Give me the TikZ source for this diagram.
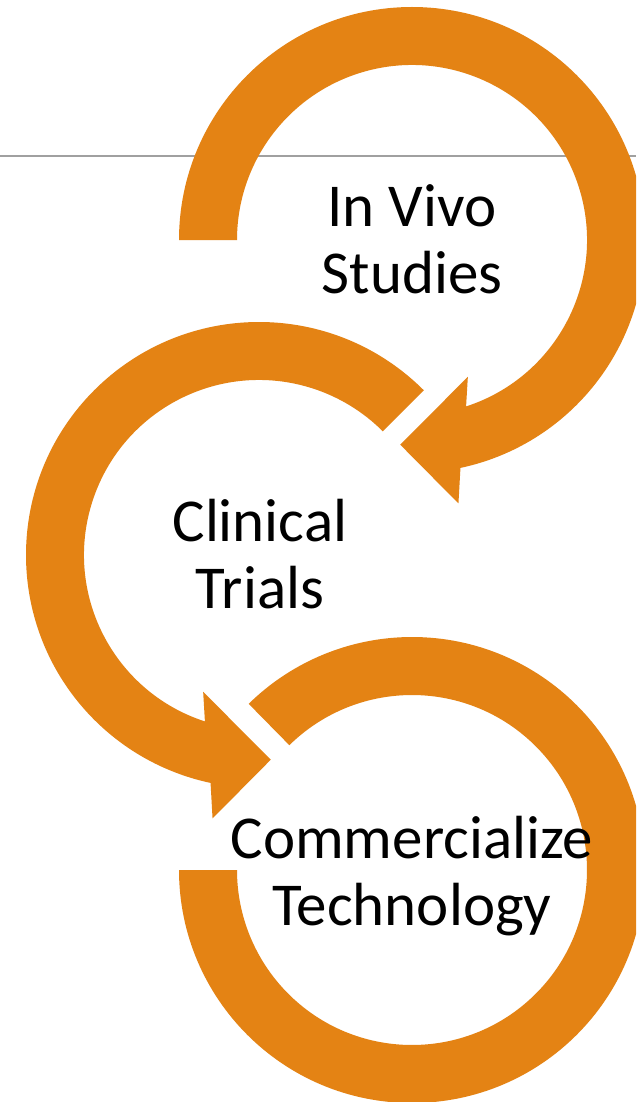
\documentclass[tikz,border=0pt]{standalone}
\usepackage{fontspec}
\setmainfont{Carlito}
\definecolor{ringorange}{RGB}{228,131,20}
\definecolor{rulegray}{RGB}{160,160,160}
\tikzset{
  ring/.style={fill=ringorange, draw=none},
  lbl/.style={font=\fontsize{45.7}{50}\selectfont, inner sep=0pt, anchor=base, text=black},
  hrule/.style={draw=rulegray, line width=1.1pt}
}
\begin{document}
\begin{tikzpicture}[x=0.75pt,y=0.75pt]
\useasboundingbox (0,0) rectangle (636,-1102);
\clip (0,0) rectangle (636,-1102);
\fill[white] (0,0) rectangle (636,-1102);
% horizontal rule
\coordinate (ruleL) at (0,-156);
\coordinate (ruleR) at (636,-156);
\draw[hrule] (ruleL) -- (ruleR);
% arrow 1 (In Vivo Studies), clockwise
\begin{scope}[shift={(412,-240)}]
  \fill[ring] (180:233) arc[start angle=180, end angle=-78, radius=233]
    -- (-80:267.5) -- (-93.3:205) -- (-67.8:147.8) -- (-72:175)
    arc[start angle=-72, end angle=180, radius=175] -- cycle;
\end{scope}
% arrow 2 (Clinical Trials), counterclockwise
\begin{scope}[shift={(259,-555)}]
  \fill[ring] (45:233) arc[start angle=45, end angle=258, radius=233]
    -- (260:267.5) -- (273.3:205) -- (247.8:147.8) -- (252:175)
    arc[start angle=252, end angle=45, radius=175] -- cycle;
\end{scope}
% arrow 3 (Commercialize Technology), no head
\begin{scope}[shift={(412,-870)}]
  \fill[ring] (180:233) arc[start angle=180, end angle=494.5, radius=233]
    -- (494.5:175) arc[start angle=494.5, end angle=180, radius=175] -- cycle;
\end{scope}
% labels
\node[lbl] (t1a) at (412,-226) {In Vivo};
\node[lbl] (t1b) at (412,-293.3) {Studies};
\node[lbl] (t2a) at (260,-541.7) {Clinical};
\node[lbl] (t2b) at (260,-608.3) {Trials};
\node[lbl] (t3a) at (412,-858.3) {Commercialize};
\node[lbl] (t3b) at (412,-925) {Technology};
\end{tikzpicture}
\end{document}
